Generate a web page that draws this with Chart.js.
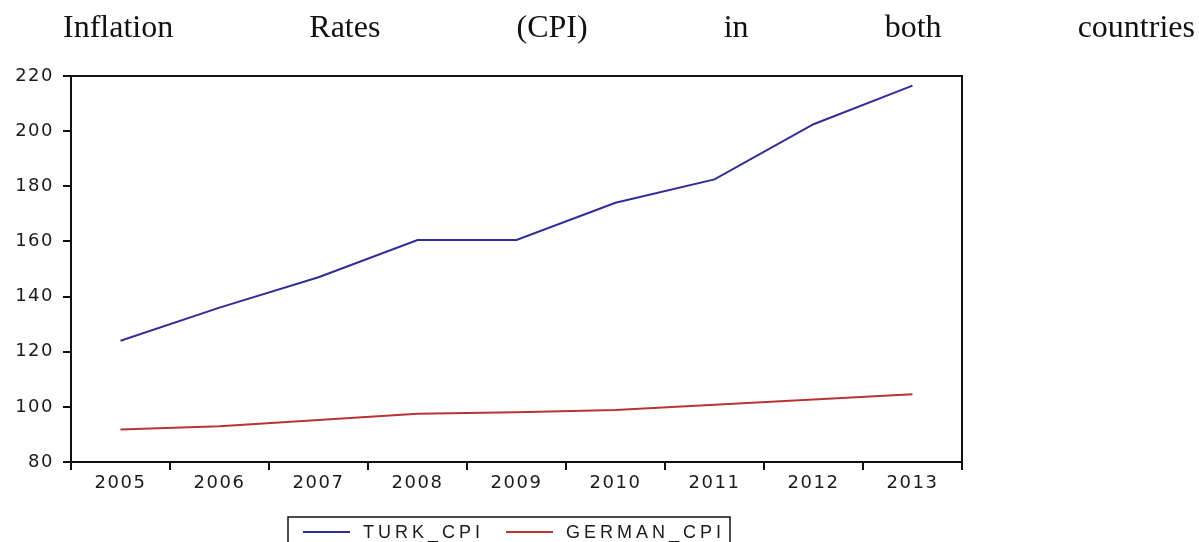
<!DOCTYPE html>
<html lang="en">
<head>
    <meta charset="UTF-8">
    <title>Inflation Rates (CPI) in both countries</title>
    <script src="https://cdn.jsdelivr.net/npm/chart.js@4.4.0/dist/chart.umd.min.js"></script>
    <style>
        html, body { margin: 0; padding: 0; background: #fff; }
        #wrap { position: relative; width: 1199px; height: 542px; overflow: hidden; }
        #title {
            position: absolute; left: 63px; right: 4px; top: 10px;
            display: flex; justify-content: space-between;
            font-family: "Liberation Serif", serif; font-size: 32px; line-height: 32px;
            color: #111; white-space: nowrap;
        }
        canvas { position: absolute; left: 0; top: 0; }
    </style>
</head>
<body>
<div id="wrap">
    <canvas id="cpiChart" width="1199" height="542"></canvas>
    <div id="title">
        <span>Inflation</span><span>Rates</span><span>(CPI)</span><span>in</span><span>both</span><span>countries</span>
    </div>
</div>

<script>
    // data
    const years = ['2005', '2006', '2007', '2008', '2009', '2010', '2011', '2012', '2013'];
    const turkCpi = [124, 136, 147, 160.5, 160.5, 174, 182.5, 202.5, 216.5];
    const germanCpi = [91.8, 93.0, 95.2, 97.5, 98.0, 98.9, 100.8, 102.7, 104.6];
    const yTicks = [80, 100, 120, 140, 160, 180, 200, 220];

    const tickFont = { family: '"DejaVu Sans", sans-serif', size: 18 };

    // letter spacing for the wide sans text
    const spacing = {
        id: 'spacing',
        beforeDraw(chart) { chart.ctx.letterSpacing = '1.5px'; }
    };

    // top and right edges of the frame
    const frame = {
        id: 'frame',
        afterDraw(chart) {
            const { ctx, chartArea: a } = chart;
            ctx.save();
            ctx.strokeStyle = '#111';
            ctx.lineWidth = 2;
            ctx.beginPath();
            ctx.moveTo(a.left, a.top);
            ctx.lineTo(a.right, a.top);
            ctx.lineTo(a.right, a.bottom);
            ctx.stroke();
            ctx.restore();
        }
    };

    // boxed legend below the chart
    const boxLegend = {
        id: 'boxLegend',
        afterDraw(chart) {
            const ctx = chart.ctx;
            ctx.save();
            ctx.letterSpacing = '4px';
            ctx.font = '18px "Liberation Sans", Arial, sans-serif';
            ctx.textBaseline = 'middle';
            ctx.strokeStyle = '#111';
            ctx.lineWidth = 1.5;
            ctx.strokeRect(288, 517, 442, 40);
            let x = 303;
            const y = 532;
            chart.data.datasets.forEach(ds => {
                ctx.strokeStyle = ds.borderColor;
                ctx.lineWidth = 2;
                ctx.beginPath();
                ctx.moveTo(x, y);
                ctx.lineTo(x + 47, y);
                ctx.stroke();
                ctx.fillStyle = '#1a1a1a';
                ctx.fillText(ds.label, x + 60, y + 1);
                x += 60 + ctx.measureText(ds.label).width + 22;
            });
            ctx.restore();
        }
    };

    new Chart(document.getElementById('cpiChart'), {
        type: 'line',
        data: {
            labels: years,
            datasets: [{
                label: 'TURK_CPI',
                data: turkCpi,
                borderColor: '#2e2e96',
                borderWidth: 2,
                pointRadius: 0,
                tension: 0
            }, {
                label: 'GERMAN_CPI',
                data: germanCpi,
                borderColor: '#b83434',
                borderWidth: 2,
                pointRadius: 0,
                tension: 0
            }]
        },
        options: {
            responsive: false,
            animation: false,
            layout: { padding: { top: 76, right: 237, bottom: 0, left: 0 } },
            plugins: { legend: { display: false }, tooltip: { enabled: false } },
            scales: {
                x: {
                    offset: true,
                    afterFit: s => { s.height = 80; },
                    grid: { offset: true, drawOnChartArea: false, color: '#111', lineWidth: 2, tickLength: 8 },
                    border: { color: '#111', width: 2 },
                    ticks: { color: '#1a1a1a', font: tickFont, padding: 3, maxRotation: 0 }
                },
                y: {
                    min: 80,
                    max: 220,
                    afterFit: s => { s.width = 71; },
                    afterBuildTicks: s => { s.ticks = yTicks.map(v => ({ value: v })); },
                    grid: { drawOnChartArea: false, color: '#111', lineWidth: 2, tickLength: 8 },
                    border: { color: '#111', width: 2 },
                    ticks: { color: '#1a1a1a', font: tickFont, padding: 9 }
                }
            }
        },
        plugins: [spacing, frame, boxLegend]
    });
</script>
</body>
</html>
